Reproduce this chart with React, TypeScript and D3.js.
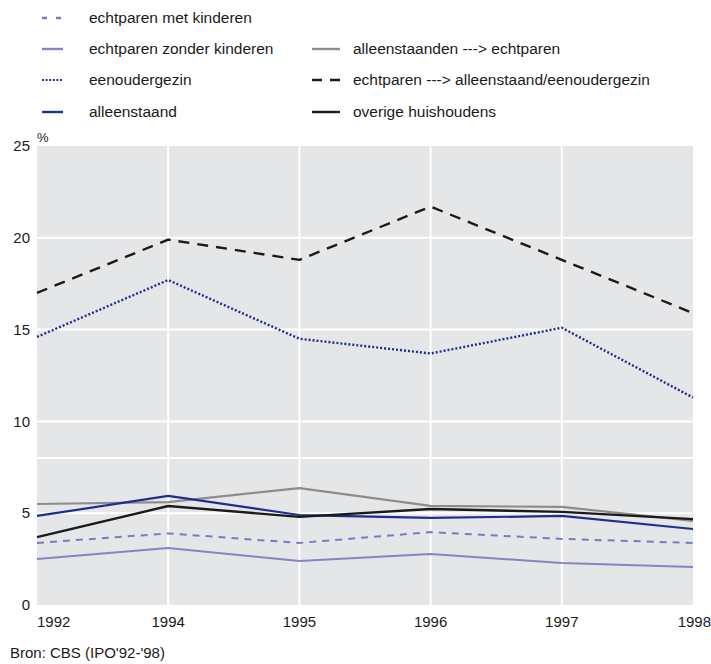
import React from "react";
import * as d3 from "d3";

const years = ["1992", "1994", "1995", "1996", "1997", "1998"];
const yTicks = [0, 5, 10, 15, 20, 25];
const gridValues = [5, 8, 10, 15, 20];

const metKinderen = [3.38, 3.9, 3.38, 3.97, 3.6, 3.38];
const zonderKinderen = [2.5, 3.1, 2.4, 2.78, 2.29, 2.07];
const eenoudergezin = [14.6, 17.7, 14.5, 13.7, 15.1, 11.3];
const alleenstaand = [4.85, 5.94, 4.9, 4.74, 4.85, 4.14];
const alleenNaarEcht = [5.5, 5.6, 6.37, 5.4, 5.34, 4.58];
const echtNaarAlleen = [17.0, 19.9, 18.8, 21.7, 18.8, 15.9];
const overige = [3.7, 5.39, 4.8, 5.23, 5.07, 4.68];

const seriesNames = [
  "echtparen met kinderen",
  "echtparen zonder kinderen",
  "eenoudergezin",
  "alleenstaand",
  "alleenstaanden ---> echtparen",
  "echtparen ---> alleenstaand/eenoudergezin",
  "overige huishoudens",
];

const FONT = "'Liberation Sans', Arial, Helvetica, sans-serif";

export default function App() {
  const W = 711;
  const H = 664;
  const left = 37;
  const right = 693;
  const top = 146;
  const bottom = 605;

  const x = d3.scalePoint<string>().domain(years).range([left, right]);
  const y = d3.scaleLinear().domain([0, 25]).range([bottom, top]);

  const line = d3
    .line<number>()
    .x((_, i) => x(years[i]) as number)
    .y((d) => y(d));

  const series = [
    { name: seriesNames[0], data: metKinderen, color: "#7b7bc2", dash: "7,6", width: 2 },
    { name: seriesNames[1], data: zonderKinderen, color: "#8585c6", dash: null, width: 2 },
    { name: seriesNames[2], data: eenoudergezin, color: "#1f2e8e", dash: "2,2", width: 2.4 },
    { name: seriesNames[3], data: alleenstaand, color: "#1f2e8e", dash: null, width: 2.2 },
    { name: seriesNames[4], data: alleenNaarEcht, color: "#8c8c8c", dash: null, width: 2.2 },
    { name: seriesNames[5], data: echtNaarAlleen, color: "#1a1a1a", dash: "11,8", width: 2.4 },
    { name: seriesNames[6], data: overige, color: "#1a1a1a", dash: null, width: 2.4 },
  ];

  const drawOrder = [1, 0, 4, 3, 6, 2, 5];

  const legendPos = [
    { sx: 42, sw: 21, tx: 89, ty: 18, dash: "5,9" },
    { sx: 42, sw: 21, tx: 89, ty: 49, dash: null },
    { sx: 42, sw: 21, tx: 89, ty: 80, dash: "2,1.6" },
    { sx: 42, sw: 21, tx: 89, ty: 112, dash: null },
    { sx: 312, sw: 28, tx: 353, ty: 49, dash: null },
    { sx: 312, sw: 28, tx: 353, ty: 80, dash: "10,8" },
    { sx: 312, sw: 28, tx: 353, ty: 112, dash: null },
  ];

  return (
    <svg
      width={W}
      height={H}
      style={{ position: "absolute", left: 0, top: 0, display: "block", background: "#fff" }}
      fontFamily={FONT}
    >
      {series.map((s, i) => {
        const p = legendPos[i];
        return (
          <g key={"lg" + i}>
            <line
              x1={p.sx}
              x2={p.sx + p.sw}
              y1={p.ty}
              y2={p.ty}
              stroke={s.color}
              strokeWidth={i === 2 ? 2.2 : 2.4}
              strokeDasharray={p.dash ?? undefined}
            />
            <text x={p.tx} y={p.ty} dy="0.35em" fontSize={15.5} fill="#1a1a1a">
              {s.name}
            </text>
          </g>
        );
      })}

      <rect x={left} y={top} width={right - left} height={bottom - top} fill="#e5e6e8" />

      {gridValues.map((v) => (
        <line key={"h" + v} x1={left} x2={right} y1={y(v)} y2={y(v)} stroke="#fff" strokeWidth={2} />
      ))}
      {years.slice(1, -1).map((yr) => (
        <line
          key={"v" + yr}
          x1={x(yr)}
          x2={x(yr)}
          y1={top}
          y2={bottom}
          stroke="#fff"
          strokeWidth={2}
        />
      ))}

      {drawOrder.map((i) => {
        const s = series[i];
        return (
          <path
            key={"s" + i}
            d={line(s.data) as string}
            fill="none"
            stroke={s.color}
            strokeWidth={s.width}
            strokeDasharray={s.dash ?? undefined}
            strokeLinejoin="round"
          />
        );
      })}

      {yTicks.map((t) => (
        <text
          key={"yt" + t}
          x={30}
          y={y(t)}
          dy="0.35em"
          textAnchor="end"
          fontSize={15}
          fill="#1a1a1a"
        >
          {t}
        </text>
      ))}
      <text x={37} y={137} fontSize={13} fill="#1a1a1a" dy="0.35em">
        %
      </text>

      {years.map((yr, i) => (
        <text
          key={"xt" + yr}
          x={i === 0 ? left : i === years.length - 1 ? W : (x(yr) as number)}
          y={622}
          dy="0.35em"
          textAnchor={i === 0 ? "start" : i === years.length - 1 ? "end" : "middle"}
          fontSize={15}
          fill="#1a1a1a"
        >
          {yr}
        </text>
      ))}

      <text x={10} y={653} dy="0.35em" fontSize={15} fill="#1a1a1a">
        Bron: CBS (IPO'92-'98)
      </text>
    </svg>
  );
}
